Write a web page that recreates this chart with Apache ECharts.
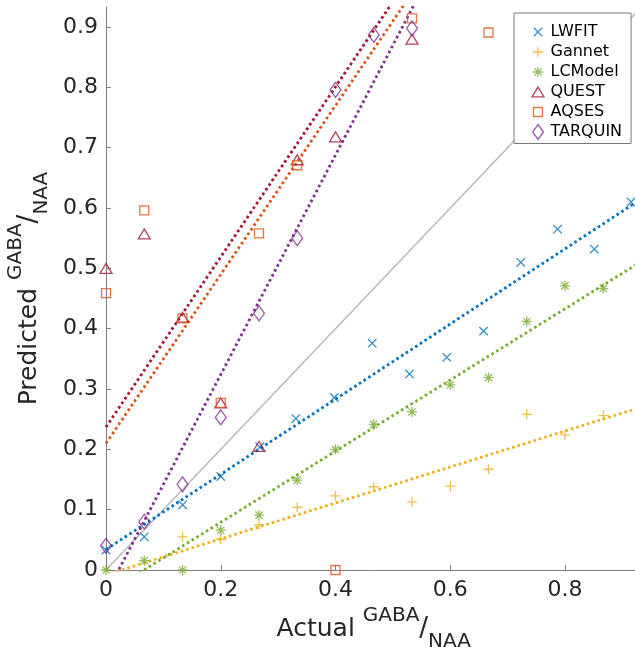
<!DOCTYPE html>
<html>
<head>
<meta charset="utf-8">
<script src="https://cdn.jsdelivr.net/npm/echarts@6/dist/echarts.min.js"></script>
<style>
  html, body { margin: 0; padding: 0; overflow: hidden; background: #ffffff; }
  #chart { width: 650px; height: 651px; }
</style>
</head>
<body>
<div id="chart"></div>
<script>
// Methods and their colours
const methods = ['LWFIT', 'Gannet', 'LCModel', 'QUEST', 'AQSES', 'TARQUIN'];
const colors = ['#0072BD', '#EDB120', '#77AC30', '#A2142F', '#D95319', '#7E2F8E'];

// Measured vs. actual GABA/NAA for each method
const lwfitX = [0, 0.0667, 0.1336, 0.2, 0.268, 0.331, 0.398, 0.464, 0.529, 0.594, 0.658, 0.723, 0.787, 0.851, 0.915];
const lwfitY = [0.033, 0.055, 0.108, 0.155, 0.204, 0.251, 0.286, 0.376, 0.325, 0.3525, 0.396, 0.51, 0.565, 0.532, 0.61];

const gannetX = [0.1333, 0.2, 0.2667, 0.3333, 0.4, 0.4667, 0.5333, 0.6, 0.6667, 0.7333, 0.8, 0.8667];
const gannetY = [0.055, 0.051, 0.075, 0.104, 0.123, 0.138, 0.113, 0.139, 0.167, 0.258, 0.224, 0.256];

const lcmodelX = [0, 0.0667, 0.1333, 0.2, 0.2667, 0.3333, 0.4, 0.4667, 0.5333, 0.6, 0.6667, 0.7333, 0.8, 0.8667];
const lcmodelY = [0, 0.0155, 0, 0.066, 0.091, 0.149, 0.2, 0.2415, 0.262, 0.307, 0.319, 0.412, 0.471, 0.467];

const questX = [0, 0.0667, 0.1333, 0.2, 0.2667, 0.3333, 0.4, 0.5333];
const questY = [0.5, 0.557, 0.419, 0.277, 0.205, 0.68, 0.718, 0.88];

const aqsesX = [0, 0.0667, 0.1333, 0.2, 0.2667, 0.3333, 0.4, 0.5333, 0.6667];
const aqsesY = [0.459, 0.596, 0.417, 0.277, 0.558, 0.671, 0, 0.9145, 0.891];

const tarquinX = [0, 0.0667, 0.1333, 0.2, 0.2667, 0.3333, 0.4, 0.4667, 0.5333];
const tarquinY = [0.04, 0.08, 0.142, 0.253, 0.4255, 0.55, 0.796, 0.887, 0.898];

// Linear fit per method (slope, intercept), same order as methods
const fitSlope = [0.623, 0.298, 0.59, 1.41, 1.40, 1.82];
const fitIntercept = [0.034, -0.008, -0.039, 0.237, 0.21, -0.04];

// Axis range and tick labels
const axisMax = 0.9333;
const xTicks = [0, 0.2, 0.4, 0.6, 0.8];
const yTicks = [0, 0.1, 0.2, 0.3, 0.4, 0.5, 0.6, 0.7, 0.8, 0.9];

const xs = [lwfitX, gannetX, lcmodelX, questX, aqsesX, tarquinX];
const ys = [lwfitY, gannetY, lcmodelY, questY, aqsesY, tarquinY];

// Marker outlines; the leading corner moves fix a common [-1,1] frame
const frame = 'M-1,-1M1,1';
const markers = [
  'path://' + frame + 'M-0.56,-0.56L0.56,0.56M-0.56,0.56L0.56,-0.56',
  'path://' + frame + 'M0,-0.68L0,0.68M-0.68,0L0.68,0',
  'path://' + frame + 'M0,-0.68L0,0.68M-0.68,0L0.68,0M-0.48,-0.48L0.48,0.48M-0.48,0.48L0.48,-0.48',
  'path://' + frame + 'M0,-0.66L0.8,0.66L-0.8,0.66Z',
  'path://' + frame + 'M-0.6,-0.6L0.6,-0.6L0.6,0.6L-0.6,0.6Z',
  'path://' + frame + 'M0,-1L0.72,0L0,1L-0.72,0Z'
];

const FONT = 'DejaVu Sans';
const TEXT = '#262626';
const AXIS = '#808080';

const pairs = (xArr, yArr) => xArr.map((x, i) => [x, yArr[i]]);

const series = [];

// Line of identity
series.push({
  type: 'line',
  name: 'identity',
  data: [[0, 0], [axisMax, axisMax]],
  symbol: 'none',
  silent: true,
  z: 1,
  lineStyle: { color: '#b8b8b8', width: 1.5 }
});

methods.forEach((m, i) => {
  series.push({
    type: 'scatter',
    name: m,
    data: pairs(xs[i], ys[i]),
    symbol: markers[i],
    symbolSize: 15,
    z: 3,
    itemStyle: { color: 'none', borderColor: colors[i], borderWidth: 1.3 },
    emphasis: { disabled: true }
  });
});

methods.forEach((m, i) => {
  series.push({
    type: 'line',
    name: m + ' fit',
    data: [[0, fitIntercept[i]], [axisMax, fitSlope[i] * axisMax + fitIntercept[i]]],
    symbol: 'none',
    clip: true,
    silent: true,
    z: 2,
    lineStyle: { color: colors[i], width: 2.8, type: [2.6, 3], cap: 'butt' }
  });
});

const nameRich = {
  m: { fontFamily: FONT, fontSize: 25, color: TEXT, lineHeight: 46 },
  sup: { fontFamily: FONT, fontSize: 20, color: TEXT, lineHeight: 20, verticalAlign: 'top' },
  sl: { fontFamily: FONT, fontSize: 26, color: TEXT, lineHeight: 30 },
  sub: { fontFamily: FONT, fontSize: 20, color: TEXT, lineHeight: 20, verticalAlign: 'bottom' }
};

const option = {
  animation: false,
  backgroundColor: '#ffffff',
  grid: { left: 106, top: 7, right: 8.5, bottom: 81, containLabel: false, outerBoundsMode: 'none' },
  xAxis: {
    type: 'value',
    min: 0,
    max: axisMax,
    name: '{m|Actual }{sup|GABA}{sl|/}{sub|NAA}',
    nameLocation: 'middle',
    nameGap: 36,
    nameTextStyle: { rich: nameRich },
    axisLine: { show: true, onZero: false, lineStyle: { color: AXIS, width: 1 } },
    axisTick: { show: true, inside: true, length: 5, customValues: xTicks, lineStyle: { color: AXIS } },
    axisLabel: { customValues: xTicks, color: TEXT, fontFamily: FONT, fontSize: 22, margin: 9 },
    splitLine: { show: false }
  },
  yAxis: {
    type: 'value',
    min: 0,
    max: axisMax,
    name: '{m|Predicted }{sup|GABA}{sl|/}{sub|NAA}',
    nameLocation: 'middle',
    nameRotate: 90,
    nameGap: 47,
    nameTextStyle: { rich: nameRich },
    axisLine: { show: true, onZero: false, lineStyle: { color: AXIS, width: 1 } },
    axisTick: { show: true, inside: true, length: 5, customValues: yTicks, lineStyle: { color: AXIS } },
    axisLabel: { customValues: yTicks, color: TEXT, fontFamily: FONT, fontSize: 22, margin: 8 },
    splitLine: { show: false }
  },
  legend: {
    data: methods,
    orient: 'vertical',
    left: 514,
    top: 13,
    padding: [9, 9, 1.5, 14],
    itemWidth: 15,
    itemHeight: 15,
    itemGap: 0,
    itemTextGap: 15,
    backgroundColor: '#ffffff',
    borderColor: '#7a7a7a',
    borderWidth: 1,
    borderRadius: 0,
    selectedMode: false,
    itemStyle: { borderWidth: 1.3 },
    textStyle: { fontFamily: FONT, fontSize: 16, color: '#000000' },
    z: 10
  },
  series: series
};

const chart = echarts.init(document.getElementById('chart'), null, { renderer: 'canvas' });
chart.setOption(option);
</script>
</body>
</html>
